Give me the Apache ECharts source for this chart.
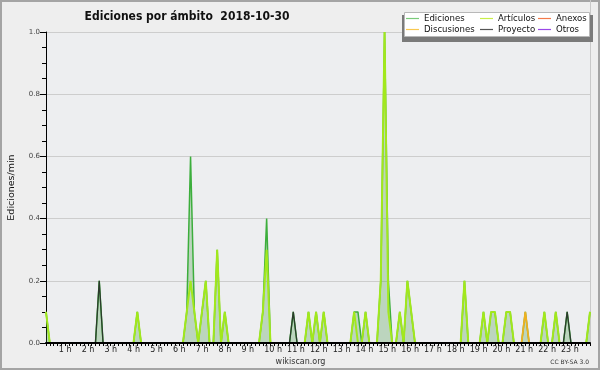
<!DOCTYPE html>
<html><head><meta charset="utf-8">
<script src="https://cdn.jsdelivr.net/npm/echarts@6/dist/echarts.min.js"></script>
<style>html,body{margin:0;padding:0;background:#eeeeee}#c{width:600px;height:370px}</style>
</head><body><div id="c"></div>
<script>
// 10-minute bins, 00:00 .. 23:50 (144 values), edits per minute
const stepMinutes = 10;
const hourLabelSuffix = ' h';
const titleText = 'Ediciones por ámbito  2018-10-30';
const seriesNames = ['Ediciones', 'Artículos', 'Anexos', 'Discusiones', 'Proyecto', 'Otros'];

const ediciones = [
  0.1,0,0,0,0,0,0,0,0,0,0,0,
  0,0,0.2,0,0,0,0,0,0,0,0,0,
  0.1,0,0,0,0,0,0,0,0,0,0,0,
  0,0.1,0.6,0.1,0,0.1,0.2,0,0,0.3,0,0.1,
  0,0,0,0,0,0,0,0,0,0.1,0.4,0,
  0,0,0,0,0,0.1,0,0,0,0.1,0,0.1,
  0,0.1,0,0,0,0,0,0,0,0.1,0.1,0,
  0.1,0,0,0,0.2,1.0,0.2,0,0,0.1,0,0.2,
  0.1,0,0,0,0,0,0,0,0,0,0,0,
  0,0,0.2,0,0,0,0,0.1,0,0.1,0.1,0,
  0,0.1,0.1,0,0,0,0.1,0,0,0,0,0.1,
  0,0,0.1,0,0,0.1,0,0,0,0,0,0.1
];
const articulos = [
  0.1,0,0,0,0,0,0,0,0,0,0,0,
  0,0,0,0,0,0,0,0,0,0,0,0,
  0.1,0,0,0,0,0,0,0,0,0,0,0,
  0,0.1,0.2,0.1,0,0.1,0.2,0,0,0.3,0,0.1,
  0,0,0,0,0,0,0,0,0,0.1,0.3,0,
  0,0,0,0,0,0,0,0,0,0.1,0,0.1,
  0,0.1,0,0,0,0,0,0,0,0.1,0,0,
  0.1,0,0,0,0.2,1.0,0.1,0,0,0.1,0,0.2,
  0.1,0,0,0,0,0,0,0,0,0,0,0,
  0,0,0.2,0,0,0,0,0.1,0,0.1,0.1,0,
  0,0.1,0.1,0,0,0,0,0,0,0,0,0.1,
  0,0,0.1,0,0,0,0,0,0,0,0,0.1
];
const discusiones = [
  0,0,0,0,0,0,0,0,0,0,0,0,
  0,0,0,0,0,0,0,0,0,0,0,0,
  0,0,0,0,0,0,0,0,0,0,0,0,
  0,0,0,0,0,0,0,0,0,0,0,0,
  0,0,0,0,0,0,0,0,0,0,0,0,
  0,0,0,0,0,0,0,0,0,0,0,0,
  0,0,0,0,0,0,0,0,0,0,0,0,
  0,0,0,0,0,0,0,0,0,0,0,0,
  0,0,0,0,0,0,0,0,0,0,0,0,
  0,0,0,0,0,0,0,0,0,0,0,0,
  0,0,0,0,0,0,0.1,0,0,0,0,0,
  0,0,0,0,0,0,0,0,0,0,0,0
];
const proyecto = [
  0,0,0,0,0,0,0,0,0,0,0,0,
  0,0,0.2,0,0,0,0,0,0,0,0,0,
  0,0,0,0,0,0,0,0,0,0,0,0,
  0,0,0,0,0,0,0,0,0,0,0,0,
  0,0,0,0,0,0,0,0,0,0,0,0,
  0,0,0,0,0,0.1,0,0,0,0,0,0,
  0,0,0,0,0,0,0,0,0,0,0,0,
  0,0,0,0,0,0,0,0,0,0,0,0,
  0,0,0,0,0,0,0,0,0,0,0,0,
  0,0,0,0,0,0,0,0,0,0,0,0,
  0,0,0,0,0,0,0,0,0,0,0,0,
  0,0,0,0,0,0.1,0,0,0,0,0,0
];
const anexos = [];
const otros = [];

const FONT = '"DejaVu Sans", sans-serif';
const COND = '"DejaVu Sans Condensed", "DejaVu Sans", sans-serif';

function pts(arr) { return arr.map((v, i) => [i * stepMinutes, v]); }

const legendColors = {
  'Ediciones': '#7acb7a', 'Artículos': '#c8ee48', 'Anexos': '#f47a4a',
  'Discusiones': '#f8c850', 'Proyecto': '#555555', 'Otros': '#9a48e8'
};
function legendCol(names, left) {
  return {
    data: names.map(n => ({ name: n, itemStyle: { color: legendColors[n] } })),
    orient: 'vertical', left: left, top: 13, padding: 0, itemGap: 0,
    itemWidth: 13, itemHeight: 1.2, icon: 'rect', selectedMode: false, z: 10,
    textStyle: { fontFamily: COND, fontSize: 9.5, lineHeight: 11, color: '#111' }
  };
}

const chart = echarts.init(document.getElementById('c'));
chart.setOption({
  animation: false,
  backgroundColor: '#eeeeee',
  title: {
    text: titleText, left: 182, top: 6, textAlign: 'center',
    textStyle: { fontFamily: COND, fontSize: 12, fontWeight: 'bold', color: '#111' }
  },
  grid: { left: 46, right: 10, top: 32, bottom: 27, show: true, backgroundColor: '#edeef0', borderWidth: 0, outerBoundsMode: 'none', containLabel: false },
  legend: [
    legendCol(['Ediciones', 'Discusiones'], 406),
    legendCol(['Artículos', 'Proyecto'], 480),
    legendCol(['Anexos', 'Otros'], 538)
  ],
  graphic: [
    { type: 'rect', z: 0, shape: { x: 1, y: 1, width: 598, height: 368 }, style: { fill: null, stroke: '#a4a4a4', lineWidth: 2 } },
    { type: 'line', z: 1, shape: { x1: 590.5, y1: 0, x2: 590.5, y2: 343 }, style: { stroke: '#c9c9c9', lineWidth: 1 } },
    { type: 'rect', z: 8, shape: { x: 402, y: 15, width: 191, height: 27 }, style: { fill: '#7a7a7a' } },
    { type: 'rect', z: 9, shape: { x: 404.5, y: 12.5, width: 185, height: 24 }, style: { fill: '#ffffff', stroke: '#b8b8b8', lineWidth: 1 } },
    { type: 'text', z: 5, x: 300.5, y: 362, style: { text: 'wikiscan.org', font: '8px "DejaVu Sans"', fill: '#333', align: 'center', verticalAlign: 'middle' } },
    { type: 'text', z: 5, x: 589, y: 362, style: { text: 'CC BY-SA 3.0', font: '6px "DejaVu Sans"', fill: '#333', align: 'right', verticalAlign: 'middle' } }
  ],
  xAxis: {
    type: 'value', min: 0, max: 1430, interval: stepMinutes, z: 5,
    axisLine: { lineStyle: { color: '#000', width: 2 } },
    axisTick: { show: true, length: 3, lineStyle: { color: '#000' } },
    splitLine: { show: false },
    axisLabel: {
      fontFamily: FONT, fontSize: 8, color: '#222', margin: 3, align: 'left', padding: [0, 0, 0, -10],
      formatter: v => (v > 0 && v % 60 === 0) ? (v / 60) + hourLabelSuffix : ''
    }
  },
  yAxis: {
    type: 'value', min: 0, max: 1, interval: 0.2,
    name: 'Ediciones/min', nameLocation: 'middle', nameGap: 29, nameRotate: 90,
    nameTextStyle: { fontFamily: FONT, fontSize: 9.5, color: '#111' },
    axisLine: { show: true, lineStyle: { color: '#000' } },
    axisTick: { show: true, length: 6, lineStyle: { color: '#000' } },
    minorTick: { show: true, splitNumber: 4, length: 4, lineStyle: { color: '#000' } },
    splitLine: { show: true, lineStyle: { color: '#cdcdcd', width: 1 } },
    axisLabel: { fontFamily: FONT, fontSize: 7, color: '#444', margin: 6, formatter: v => v.toFixed(1) }
  },
  series: [
    { name: 'Ediciones', type: 'line', data: pts(ediciones), showSymbol: false, z: 2,
      lineStyle: { color: '#3cae3c', width: 1.5 }, itemStyle: { color: '#3cae3c' },
      areaStyle: { color: 'rgba(60,150,60,0.4)' } },
    { name: 'Artículos', type: 'line', data: pts(articulos), showSymbol: false, z: 3,
      lineStyle: { color: '#a2e81c', width: 2 }, itemStyle: { color: '#a2e81c' } },
    { name: 'Anexos', type: 'line', data: pts(anexos), showSymbol: false, z: 3,
      lineStyle: { color: '#f47a4a', width: 1.5 }, itemStyle: { color: '#f47a4a' } },
    { name: 'Discusiones', type: 'line', data: pts(discusiones), showSymbol: false, z: 3,
      lineStyle: { color: '#f0b020', width: 1.8 }, itemStyle: { color: '#f0b020' } },
    { name: 'Proyecto', type: 'line', data: pts(proyecto), showSymbol: false, z: 3,
      lineStyle: { color: '#2c3a2c', width: 1.3 }, itemStyle: { color: '#2c3a2c' } },
    { name: 'Otros', type: 'line', data: pts(otros), showSymbol: false, z: 3,
      lineStyle: { color: '#9a48e8', width: 1.5 }, itemStyle: { color: '#9a48e8' } }
  ]
});
</script>
</body></html>
